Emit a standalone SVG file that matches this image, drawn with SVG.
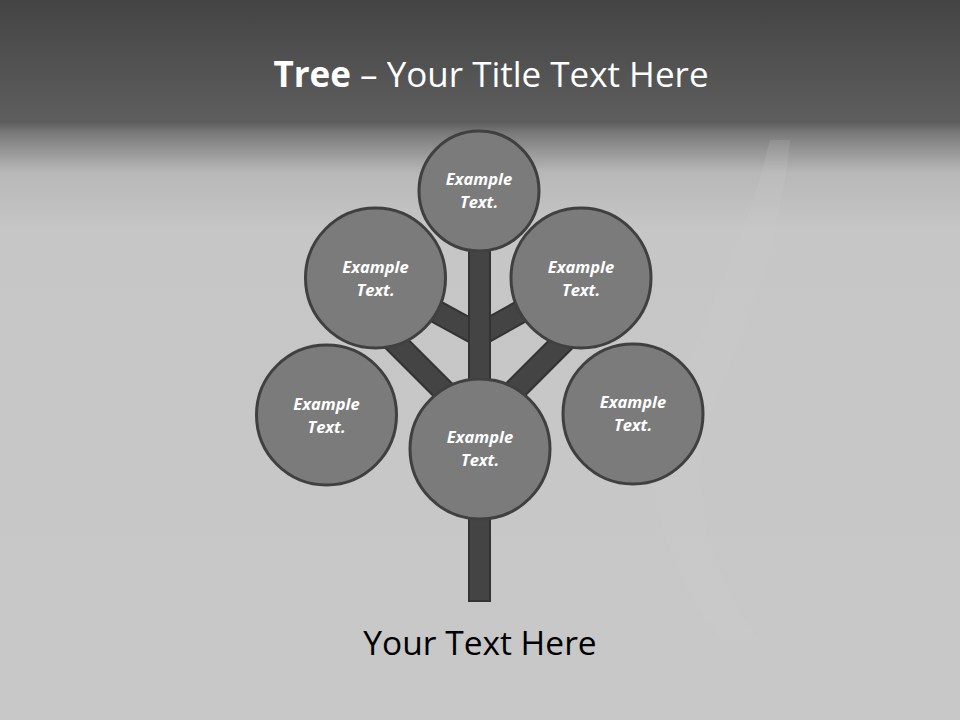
<svg xmlns="http://www.w3.org/2000/svg" width="960" height="720" viewBox="0 0 960 720">
<defs>
<linearGradient id="bg" x1="0" y1="0" x2="0" y2="720" gradientUnits="userSpaceOnUse">
<stop offset="0" stop-color="#444444"/>
<stop offset="0.17" stop-color="#5e5e5e"/>
<stop offset="0.185" stop-color="#7a7a7a"/>
<stop offset="0.24" stop-color="#b8b8b8"/>
<stop offset="0.32" stop-color="#c6c6c6"/>
<stop offset="1" stop-color="#c8c8c8"/>
</linearGradient>
<style>
.node circle{fill:#7b7b7b;stroke:#404040;stroke-width:3}
.node text{fill:#ffffff;font-family:"Open Sans","Liberation Sans",sans-serif;font-weight:bold;font-style:italic;font-size:16.5px;text-anchor:middle}
.br{stroke:#333333;stroke-width:24;stroke-linecap:butt}
.brf{stroke:#444444;stroke-width:20;stroke-linecap:butt}
</style>
</defs>
<rect width="960" height="720" fill="url(#bg)"/>
<path d="M770 140 C740 260 700 330 660 420 C640 470 660 560 720 640 L760 640 C700 560 690 470 710 420 C740 340 780 250 790 140 Z" fill="#d0d0d0" opacity="0.15"/>
<text x="491" y="87" text-anchor="middle" font-family="'Open Sans','Liberation Sans',sans-serif" font-size="35" fill="#ffffff"><tspan font-weight="bold">Tree</tspan> – Your Title Text Here</text>
<g id="connectors">
<line class="br" x1="375" y1="278" x2="479" y2="335"/>
<line class="br" x1="581" y1="278" x2="479" y2="335"/>
<line class="br" x1="380" y1="327" x2="465" y2="412"/>
<line class="br" x1="578" y1="327" x2="493" y2="412"/>
<line class="brf" x1="375" y1="278" x2="479" y2="335"/>
<line class="brf" x1="581" y1="278" x2="479" y2="335"/>
<line class="brf" x1="380" y1="327" x2="465" y2="412"/>
<line class="brf" x1="578" y1="327" x2="493" y2="412"/>
<rect x="469" y="240" width="21" height="361" fill="#444444" stroke="#333333" stroke-width="2"/>
</g>
<g id="node-top" class="node"><circle cx="479" cy="191" r="60"/><text x="479" y="185">Example</text><text x="479" y="208">Text.</text></g>
<g id="node-ul" class="node"><circle cx="375.5" cy="278" r="70"/><text x="375.5" y="273">Example</text><text x="375.5" y="296">Text.</text></g>
<g id="node-ur" class="node"><circle cx="581" cy="278" r="70"/><text x="581" y="273">Example</text><text x="581" y="296">Text.</text></g>
<g id="node-ll" class="node"><circle cx="326.5" cy="415" r="70"/><text x="326.5" y="410">Example</text><text x="326.5" y="433">Text.</text></g>
<g id="node-lr" class="node"><circle cx="633" cy="414" r="70"/><text x="633" y="408">Example</text><text x="633" y="431">Text.</text></g>
<g id="node-center" class="node"><circle cx="480" cy="449" r="70"/><text x="480" y="443">Example</text><text x="480" y="466">Text.</text></g>
<text x="480" y="655" text-anchor="middle" font-family="'Open Sans','Liberation Sans',sans-serif" font-size="33.5" fill="#000000">Your Text Here</text>
</svg>
